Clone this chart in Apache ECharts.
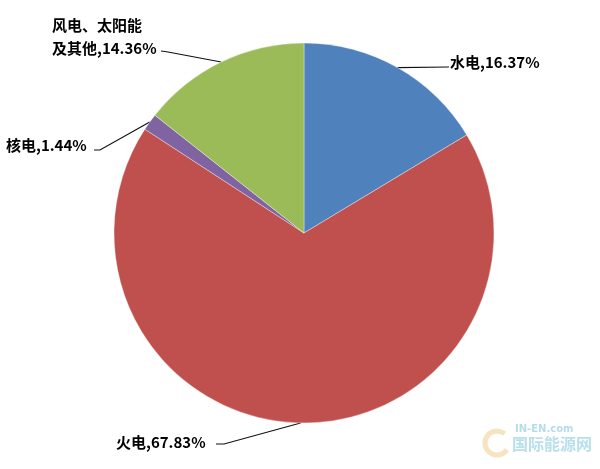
<!DOCTYPE html>
<html><head><meta charset="utf-8">
<script src="https://cdn.jsdelivr.net/npm/echarts@6/dist/echarts.min.js"></script>
<style>html,body{margin:0;padding:0;background:#fff}#c{width:600px;height:469px}</style>
</head><body><div id="c"></div>
<script>
const categories = ['水电', '火电', '核电', '风电、太阳能\n及其他'];
const shares = [16.37, 67.83, 1.44, 14.36];
const colors = ['#4F81BD', '#C0504D', '#8064A2', '#9BBB59'];

// label placement (left edge x, middle y) and leader-line end points
const labelPos = [
  {x: 450, y: 62, mid: [449, 67]},
  {x: 116, y: 442, mid: [224, 444], end: [216, 444]},
  {x: 6, y: 145, mid: [100, 150], end: [94, 150]},
  {x: 52, y: 37, mid: [168, 52], end: [161, 51]}
];

const chart = echarts.init(document.getElementById('c'), null, {renderer: 'canvas'});
chart.setOption({
  backgroundColor: '#fff',
  animation: false,
  series: [{
    type: 'pie',
    center: [304, 233],
    radius: 190,
    startAngle: 90,
    clockwise: true,
    data: categories.map((n, i) => ({name: n, value: shares[i], itemStyle: {color: colors[i]}})),
    itemStyle: {borderColor: 'rgba(255,255,255,0.6)', borderWidth: 0.6},
    label: {
      show: true,
      position: 'outside',
      formatter: p => p.name + ',' + p.value.toFixed(2) + '%',
      color: '#000',
      fontFamily: '"Noto Sans CJK SC", sans-serif',
      fontWeight: 'bold',
      fontSize: 15,
      lineHeight: 23
    },
    labelLine: {show: true, lineStyle: {color: '#111', width: 1.2}},
    labelLayout: function (params) {
      const lp = labelPos[params.dataIndex];
      const start = params.labelLinePoints ? params.labelLinePoints[0] : lp.mid;
      const pts = [start, lp.mid];
      if (lp.end) pts.push(lp.end); else pts.push(lp.mid);
      return {x: lp.x, y: lp.y, align: 'left', verticalAlign: 'middle', labelLinePoints: pts};
    }
  }],
  graphic: [
    {type: 'arc', shape: {cx: 497, cy: 443, r: 12, startAngle: 0.6, endAngle: 5.4}, style: {stroke: '#f6e3bf', lineWidth: 5, fill: null}, silent: true},
    {type: 'text', left: 515, top: 424, style: {text: 'IN-EN.com', fill: '#b5dcea', font: 'bold 10px "DejaVu Sans", sans-serif'}},
    {type: 'text', left: 512, top: 436, style: {text: '国际能源网', fill: '#b8dfec', font: 'bold 16px "Noto Sans CJK SC", sans-serif'}}
  ]
});
</script></body></html>
